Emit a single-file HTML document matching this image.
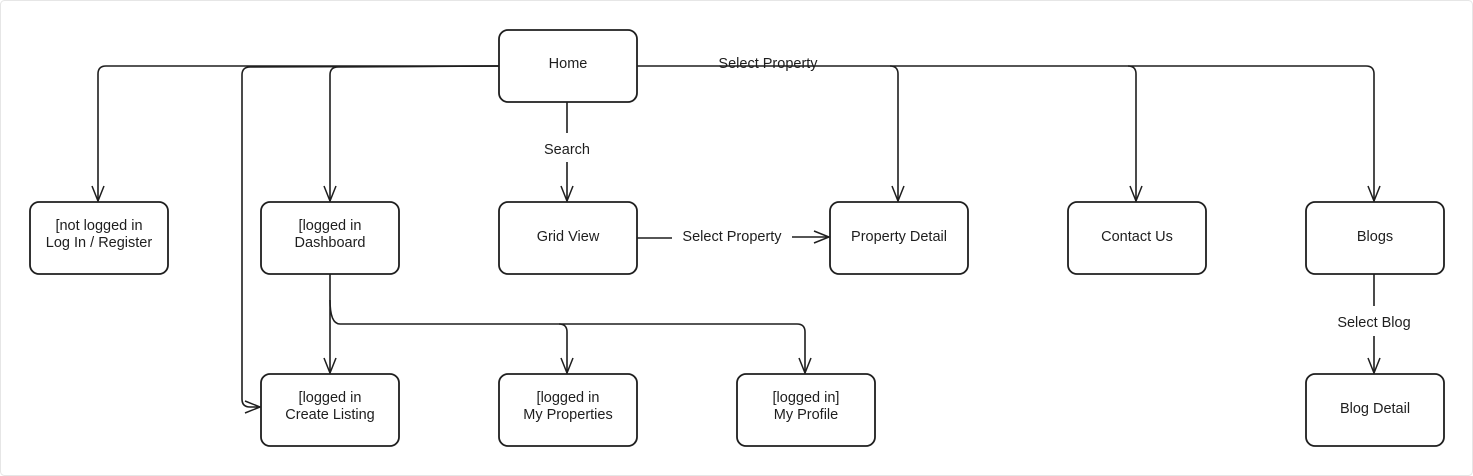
<!DOCTYPE html>
<html><head><style>
body{margin:0;background:#fff;}
svg{display:block;font-family:"Liberation Sans",sans-serif;}
</style></head><body>
<svg width="1473" height="476" viewBox="0 0 1473 476">
<rect x="0.5" y="0.5" width="1472" height="475" rx="4" fill="#fff" stroke="#e6e6e6"/>
<defs><marker id="a" markerWidth="18" markerHeight="14" refX="16" refY="7" orient="auto" markerUnits="userSpaceOnUse"><path d="M1,1 L16,7 L1,13" fill="none" stroke="#1e1e1e" stroke-width="1.5"/></marker></defs>
<g fill="none" stroke="#1e1e1e" stroke-width="1.6">
<path d="M499,66 L106,66 Q98,66 98,74 L98,201" marker-end="url(#a)"/>
<path d="M499,66 L250,67 Q242,67 242,75 L242,399 Q242,407 250,407 L260,407" marker-end="url(#a)"/>
<path d="M499,66 L338,67 Q330,67 330,75 L330,201" marker-end="url(#a)"/>
<path d="M567,102 L567,133 M567,162 L567,201" marker-end="url(#a)"/>
<path d="M637,66 L890,66 Q898,66 898,74 L898,201" marker-end="url(#a)"/>
<path d="M890,66 L1128,66 Q1136,66 1136,74 L1136,201" marker-end="url(#a)"/>
<path d="M1128,66 L1366,66 Q1374,66 1374,74 L1374,201" marker-end="url(#a)"/>
<path d="M637,238 L672,238 M792,237 L829,237" marker-end="url(#a)"/>
<path d="M330,274 L330,373" marker-end="url(#a)"/>
<path d="M330,300 Q330,324 340,324 L559,324 Q567,324 567,332 L567,373" marker-end="url(#a)"/>
<path d="M559,324 L797,324 Q805,324 805,332 L805,373" marker-end="url(#a)"/>
<path d="M1374,274 L1374,306 M1374,336 L1374,373" marker-end="url(#a)"/>
</g>
<g fill="#fff" stroke="#1e1e1e" stroke-width="1.8">
<rect x="499" y="30" width="138" height="72" rx="9"/>
<rect x="30" y="202" width="138" height="72" rx="9"/>
<rect x="261" y="202" width="138" height="72" rx="9"/>
<rect x="499" y="202" width="138" height="72" rx="9"/>
<rect x="830" y="202" width="138" height="72" rx="9"/>
<rect x="1068" y="202" width="138" height="72" rx="9"/>
<rect x="1306" y="202" width="138" height="72" rx="9"/>
<rect x="261" y="374" width="138" height="72" rx="9"/>
<rect x="499" y="374" width="138" height="72" rx="9"/>
<rect x="737" y="374" width="138" height="72" rx="9"/>
<rect x="1306" y="374" width="138" height="72" rx="9"/>
</g>
<g font-size="14.5" fill="#1e1e1e" text-anchor="middle">
<text x="568" y="68">Home</text>
<text x="99" y="230">[not logged in</text><text x="99" y="247">Log In / Register</text>
<text x="330" y="230">[logged in</text><text x="330" y="247">Dashboard</text>
<text x="568" y="241">Grid View</text>
<text x="899" y="241">Property Detail</text>
<text x="1137" y="241">Contact Us</text>
<text x="1375" y="241">Blogs</text>
<text x="330" y="402">[logged in</text><text x="330" y="419">Create Listing</text>
<text x="568" y="402">[logged in</text><text x="568" y="419">My Properties</text>
<text x="806" y="402">[logged in]</text><text x="806" y="419">My Profile</text>
<text x="1375" y="413">Blog Detail</text>
<text x="567" y="154">Search</text>
<text x="732" y="241">Select Property</text>
<text x="768" y="68">Select Property</text>
<text x="1374" y="327">Select Blog</text>
</g>
</svg>
</body></html>
